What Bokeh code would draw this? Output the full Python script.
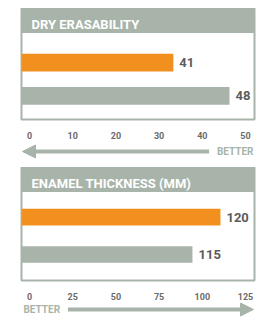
from bokeh.plotting import figure
from bokeh.layouts import column
from bokeh.models import Range1d, FixedTicker, Arrow, NormalHead
from bokeh.core.properties import value
from bokeh.embed import file_html
from bokeh.resources import INLINE

# ---- data ----
series = ["Series 1", "Series 2"]

panel1_title = "DRY ERASABILITY"
panel1_labels = [41, 48]
panel1_bars = [33.3, 46.3]          # bar lengths as drawn against the axis
panel1_ticks = [0, 10, 20, 30, 40, 50]

panel2_title = "ENAMEL THICKNESS  (MM)"
panel2_labels = [120, 115]
panel2_bars = [110.5, 94.3]
panel2_ticks = [0, 25, 50, 75, 100, 125]

ORANGE = "#F18F1F"
GRAY = "#A8B4AA"
colors = [ORANGE, GRAY]
FONT = value("Roboto")
W = 236


def panel(title, bars, labels, ticks, xr, yr, head_bottom, title_y, bar_h, height):
    n = len(bars)
    ypos = [n - 1 - i for i in range(n)]
    p = figure(width=W, height=height, x_range=Range1d(*xr), y_range=Range1d(*yr),
               title=None, toolbar_location=None, output_backend="svg", y_axis_location=None,
               min_border_left=1, min_border_right=2, min_border_top=0, min_border_bottom=20,
               outline_line_color=GRAY, outline_line_width=2,
               background_fill_color="white", border_fill_color="white")
    p.grid.visible = False
    # header band
    p.quad(left=[xr[0]], right=[xr[1]], bottom=[head_bottom], top=[yr[1]],
           fill_color=GRAY, line_color=None)
    p.text(x=[xr[0]], y=[title_y], text=[title], x_offset=10, text_font=FONT,
           text_font_style="bold", text_font_size="13px", text_color="white",
           text_baseline="middle", text_align="left")
    # bars
    p.hbar(y=ypos, left=xr[0], right=bars, height=bar_h, color=colors, line_color=None)
    p.text(x=bars, y=ypos, text=[str(v) for v in labels], x_offset=6,
           text_baseline="middle", text_align="left", text_font=FONT,
           text_font_style="bold", text_font_size="13px", text_color="#5c5c5c")
    ax = p.xaxis[0]
    ax.ticker = FixedTicker(ticks=ticks)
    ax.axis_line_color = None
    ax.major_tick_line_color = None
    ax.minor_tick_line_color = None
    ax.major_label_standoff = 6
    ax.major_label_text_font = "Roboto"
    ax.major_label_text_font_size = "9px"
    ax.major_label_text_font_style = "bold"
    ax.major_label_text_color = "#6b6b6b"
    return p


def arrow_fig(height, y, x_start, x_end, text_x, align):
    a = figure(width=W, height=height, x_range=Range1d(20, 256), y_range=Range1d(0, height),
               title=None, toolbar_location=None, output_backend="svg",
               x_axis_location=None, y_axis_location=None, min_border=0,
               outline_line_color=None, background_fill_color="white", border_fill_color="white")
    a.grid.visible = False
    a.add_layout(Arrow(x_start=x_start, y_start=y, x_end=x_end, y_end=y,
                       line_color=GRAY, line_width=4,
                       end=NormalHead(size=13, fill_color=GRAY, line_color=GRAY, line_width=1)))
    a.text(x=[text_x], y=[y], text=["BETTER"], text_align=align, text_baseline="middle",
           text_font=FONT, text_font_style="bold", text_font_size="10px", text_color=GRAY)
    return a


p1 = panel(panel1_title, panel1_bars, panel1_labels, panel1_ticks,
           (-1.85, 52.08), (-0.706, 2.618), 1.882, 2.147, 0.53, 133)
a1 = arrow_fig(26, 16, 210, 21, 255, "right")
p2 = panel(panel2_title, panel2_bars, panel2_labels, panel2_ticks,
           (-4.63, 130.2), (-0.697, 2.329), 1.671, 1.908, 0.447, 135)
a2 = arrow_fig(15, 8, 67, 255, 22, "left")

layout = column(p1, a1, p2, a2, spacing=0, margin=(8, 0, 0, 20))

open("out.html", "w").write(file_html(layout, INLINE))
